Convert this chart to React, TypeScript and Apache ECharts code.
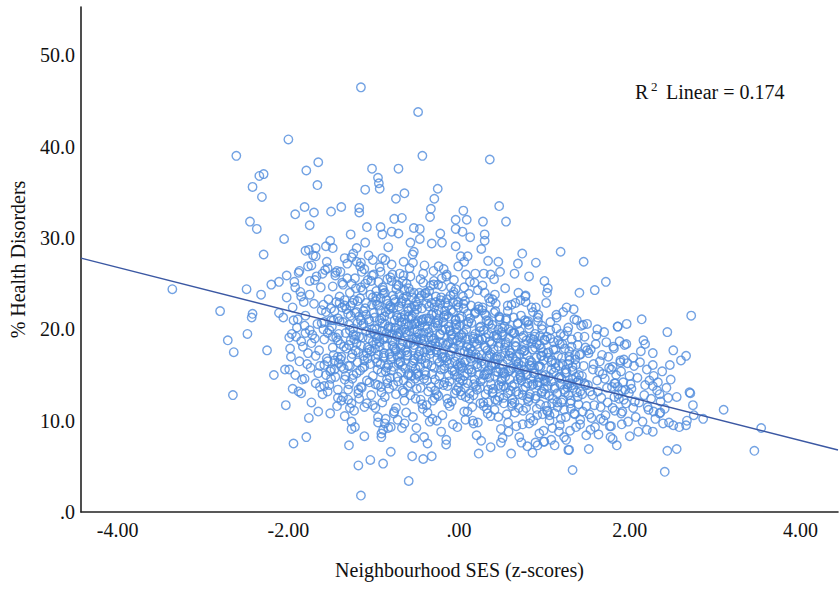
import React, { useEffect, useRef } from "react";
import * as echarts from "echarts";

const X_MIN = -4.43;
const X_MAX = 4.44;
const Y_MIN = 0;
const Y_MAX = 55.3;
const xTicks = [-4, -2, 0, 2, 4];
const yTicks = [0, 10, 20, 30, 40, 50];
const fitIntercept = 17.31;
const fitSlope = -2.368;
const r2Value = "0.174";
const xTitle = "Neighbourhood SES (z-scores)";
const yTitle = "% Health Disorders";

const leftTail: number[][] = [
[-3.36,24.4],[-2.80,22.0],[-2.71,18.8],[-2.65,12.8],[-2.64,17.5],[-2.61,39.0],[-2.49,24.4],[-2.48,19.5],[-2.45,31.8],[-2.43,21.3],[-2.42,21.7],[-2.42,35.6],[-2.37,31.0],[-2.34,36.8],[-2.32,23.8],[-2.31,34.5],[-2.29,37.0],[-2.29,28.2],[-2.25,17.7],[-2.20,24.9],[-2.17,15.0],[-2.11,25.2],[-2.11,21.8],[-2.06,21.3],[-2.05,29.9],[-2.04,15.6],[-2.03,11.7],[-2.02,25.9],[-2.02,23.5],[-2.00,40.8],[-1.99,15.6],[-1.98,17.9],[-1.96,19.5],[-1.95,13.5],[-1.94,7.5],[-1.93,25.2],[-1.92,24.6],[-1.92,32.6],[-1.91,19.2],[-1.89,21.1],[-1.88,13.2],[-1.87,26.4],[-1.85,18.7],[-1.85,23.6],[-1.84,14.5],[-1.81,14.6],[-1.81,33.4],[-1.80,19.6],[-1.80,28.6],[-1.79,8.2],[-1.79,37.4],[-1.77,26.9],[-1.77,17.4],[-1.76,28.7],[-1.75,19.9],[-1.75,23.8],[-1.75,31.4],[-1.73,12.0],[-1.73,18.5],[-1.71,28.1],[-1.70,32.8],[-1.69,25.4],[-1.68,17.1],[-1.68,28.9],[-1.68,28.0],[-1.66,35.8],[-1.65,38.3],[-1.65,15.2],[-1.63,13.7],[-1.61,20.7],[-1.60,26.1],[-1.59,22.7],[-1.58,13.8],[-1.58,20.8],[-1.58,16.1],[-1.56,15.0],[-1.56,29.1],[-1.55,27.4],[-1.54,26.7],[-1.54,19.6],[-1.54,16.5],[-1.52,13.9],[-1.51,29.7],[-1.51,10.8],[-1.50,22.3],[-1.50,21.0],[-1.50,32.9],[-1.50,15.6],[-1.50,14.6],
[-1.95,22.4],[-1.90,20.2],[-1.86,24.1],[-1.83,18.1],[-1.80,21.5],[-1.78,16.2],[-1.75,25.3],[-1.72,19.4],[-1.70,22.8],[-1.68,14.1],[-1.66,20.6],[-1.64,17.7],[-1.62,24.6],[-1.60,12.9],[-1.58,18.9],[-1.56,21.9],[-1.55,16.8],[-1.53,23.3],[-1.52,19.9],[-1.51,15.4],[-1.97,17.0],[-1.92,15.0],[-1.88,26.2],[-1.85,13.0],[-1.82,23.0],[-1.76,10.3],[-1.73,27.0],[-1.69,19.0],[-1.65,11.0],[-1.61,22.1],[-1.57,26.5],[-1.54,13.2],[-1.99,19.1],[-1.94,21.0],[-1.87,16.5],[-1.81,20.4],[-1.74,15.8],[-1.67,25.8],[-1.63,16.0],[-1.59,20.0]
];

const upperLeft: number[][] = [
[-1.48,28.9],[-1.48,19.2],[-1.46,16.6],[-1.45,26.2],[-1.42,12.5],[-1.42,17.0],[-1.42,18.8],[-1.40,22.9],[-1.39,26.3],[-1.38,33.4],[-1.38,15.9],[-1.36,12.6],[-1.34,27.8],[-1.34,23.2],[-1.34,14.5],[-1.30,12.3],[-1.30,13.4],[-1.29,7.3],[-1.28,11.4],[-1.27,30.4],[-1.26,9.9],[-1.26,11.9],[-1.26,9.1],[-1.24,28.3],[-1.22,9.3],[-1.20,28.9],[-1.20,27.4],[-1.18,5.1],[-1.18,13.4],[-1.17,33.3],[-1.17,32.8],[-1.15,46.5],[-1.15,27.3],[-1.15,1.8],[-1.15,13.7],[-1.11,8.3],[-1.11,11.5],[-1.10,35.3],[-1.10,29.5],[-1.08,31.2],[-1.06,28.1],[-1.04,5.7],[-1.02,37.6],[-1.01,27.6],[-1.01,11.7],[-0.95,36.6],[-0.95,10.4],[-0.94,36.0],[-0.93,35.4],[-0.92,31.2],[-0.91,8.6],[-0.91,8.2],[-0.90,30.4],[-0.89,5.3],[-0.89,9.0],[-0.87,9.7],[-0.83,9.2],[-0.80,6.6],[-0.80,9.3],[-0.79,30.7],[-0.76,32.1],[-0.74,34.3],[-0.72,10.1],[-0.71,37.6],[-0.71,30.5],[-0.67,32.2],[-0.64,34.9],[-0.64,9.7],[-0.59,3.4],[-0.57,29.5],[-0.55,6.1],[-0.53,28.5],[-0.53,31.1],[-0.52,8.1]
];

const upperCenter: number[][] = [
[-0.48,43.8],[-0.46,31.0],[-0.46,29.9],[-0.43,39.0],[-0.42,5.8],[-0.41,8.2],[-0.37,7.5],[-0.34,32.3],[-0.33,33.2],[-0.32,29.4],[-0.32,6.1],[-0.29,34.3],[-0.25,35.4],[-0.24,26.9],[-0.22,30.5],[-0.20,29.5],[-0.15,7.9],[-0.04,32.0],[-0.04,31.0],[-0.04,29.1],[-0.01,26.9],[0.02,28.0],[0.04,30.7],[0.05,33.0],[0.06,27.4],[0.08,26.0],[0.09,32.0],[0.10,28.0],[0.13,30.1],[0.19,26.1],[0.23,6.4],[0.26,28.8],[0.28,31.8],[0.29,26.1],[0.30,30.4],[0.30,29.7],[0.34,27.5],[0.36,38.6],[0.37,26.0],[0.37,7.1],[0.41,25.5],[0.46,27.4],[0.47,33.5],[0.48,26.3],[0.49,7.6],[0.51,8.1],[0.55,31.8],[0.61,6.4],[0.65,26.1],[0.69,27.2],[0.73,7.6],[0.74,28.3],[0.78,23.7],[0.80,7.2],[0.82,25.8],[0.86,6.5],[0.90,27.3],[0.92,7.3]
];

const rightTail: number[][] = [
[1.00,25.3],[1.00,7.7],[1.03,24.0],[1.04,24.5],[1.08,7.9],[1.12,7.3],[0.99,7.7],[1.19,28.5],[1.23,8.2],[1.28,6.8],[1.29,6.8],[1.33,4.6],[1.41,24.0],[1.46,27.4],[1.52,6.9],[1.59,24.3],[1.72,25.2],[1.80,8.0],[1.80,15.9],[1.82,14.1],[1.82,12.6],[1.86,20.3],[1.86,13.7],[1.89,16.4],[1.91,13.3],[1.93,12.3],[1.96,18.4],[2.00,8.3],[2.01,14.0],[2.04,11.4],[2.05,16.0],[2.06,12.1],[2.10,8.8],[2.12,16.4],[2.14,21.1],[2.16,18.8],[2.17,12.8],[2.18,18.4],[2.20,9.0],[2.21,11.5],[2.23,14.4],[2.27,13.8],[2.27,16.1],[2.27,8.8],[2.28,14.9],[2.28,11.0],[2.32,13.3],[2.35,12.9],[2.35,10.8],[2.36,10.9],[2.39,9.7],[2.41,4.4],[2.44,19.7],[2.44,6.7],[2.45,12.5],[2.47,16.1],[2.51,17.7],[2.51,9.5],[2.55,12.6],[2.55,6.9],[2.58,9.3],[2.60,16.6],[2.66,17.1],[2.66,9.5],[2.67,10.0],[2.70,13.1],[2.71,13.0],[2.72,21.5],[2.74,11.7],[2.75,10.6],[2.86,10.2],[3.10,11.2],[3.46,6.7],[3.54,9.2],
[2.02,13.5],[2.04,16.9],[2.07,10.4],[2.09,14.7],[2.11,12.0],[2.13,17.6],[2.15,9.9],[2.18,13.9],[2.20,15.6],[2.22,11.2],[2.25,12.4],[2.27,17.4],[2.30,10.2],[2.33,14.2],[2.36,12.1],[2.38,15.4],[2.41,11.3],[2.43,13.6],[2.46,9.8],[2.48,14.5]
];

const coreA: number[][] = [
[-1.49,20.3],[-1.48,24.7],[-1.47,17.2],[-1.46,22.0],[-1.45,14.8],[-1.44,19.1],[-1.43,26.4],[-1.42,21.2],[-1.41,16.3],[-1.40,23.6],[-1.39,18.4],[-1.38,12.2],[-1.37,25.1],[-1.36,20.8],[-1.35,15.7],[-1.34,22.6],[-1.33,19.6],[-1.32,17.9],[-1.31,27.2],[-1.30,21.7],[-1.29,14.0],[-1.28,24.0],[-1.27,18.8],[-1.26,16.9],[-1.25,22.9],[-1.24,20.1],[-1.23,11.1],[-1.22,25.6],[-1.21,19.3],[-1.20,15.2],[-1.19,23.1],[-1.18,17.5],[-1.17,21.4],[-1.16,26.9],[-1.15,18.2],[-1.14,13.6],[-1.13,24.3],[-1.12,20.6],[-1.11,16.6],[-1.10,22.3],[-1.09,19.8],[-1.08,14.4],[-1.07,25.4],[-1.06,21.1],[-1.05,17.8],[-1.04,23.8],[-1.03,12.8],[-1.02,20.0],[-1.01,18.6],[-1.00,26.0],
[-1.48,18.0],[-1.46,15.6],[-1.44,23.0],[-1.42,13.4],[-1.40,20.9],[-1.38,17.0],[-1.36,24.9],[-1.34,10.5],[-1.32,22.2],[-1.30,16.0],[-1.28,19.9],[-1.26,27.9],[-1.24,15.0],[-1.22,21.8],[-1.20,18.5],[-1.18,13.0],[-1.16,23.4],[-1.14,20.4],[-1.12,17.1],[-1.10,25.0],[-1.08,11.9],[-1.06,19.0],[-1.04,16.2],[-1.02,22.7],[-1.45,25.9],[-1.41,19.5],[-1.37,22.4],[-1.33,14.9],[-1.29,20.5],[-1.25,17.3],[-1.21,24.5],[-1.17,19.2],[-1.13,15.8],[-1.09,21.6],[-1.05,14.2],[-1.01,23.5],[-1.47,21.0],[-1.39,16.7],[-1.31,25.6],[-1.23,18.9],[-1.15,21.0],[-1.07,18.0],[-1.43,11.6],[-1.35,18.1],[-1.27,22.6],[-1.19,16.4],[-1.11,26.6],[-1.03,17.6]
];

const coreB: number[][] = [
[-0.99,21.3],[-0.98,16.8],[-0.97,24.2],[-0.96,19.0],[-0.95,13.9],[-0.94,22.6],[-0.93,18.1],[-0.92,26.3],[-0.91,15.3],[-0.90,20.7],[-0.89,23.9],[-0.88,17.4],[-0.87,12.6],[-0.86,21.9],[-0.85,19.6],[-0.84,25.5],[-0.83,16.1],[-0.82,22.2],[-0.81,14.7],[-0.80,20.2],[-0.79,27.1],[-0.78,18.7],[-0.77,15.9],[-0.76,23.3],[-0.75,19.9],[-0.74,11.4],[-0.73,21.5],[-0.72,17.0],[-0.71,24.8],[-0.70,20.9],[-0.69,16.5],[-0.68,22.9],[-0.67,18.3],[-0.66,13.3],[-0.65,25.9],[-0.64,21.1],[-0.63,17.7],[-0.62,23.6],[-0.61,19.4],[-0.60,15.0],[-0.59,20.4],[-0.58,26.7],[-0.57,14.1],[-0.56,22.4],[-0.55,18.9],[-0.54,16.3],[-0.53,24.0],[-0.52,20.6],[-0.51,12.4],[-0.50,19.1],
[-0.985,17.9],[-0.975,23.1],[-0.965,20.0],[-0.955,15.6],[-0.945,25.2],[-0.935,18.6],[-0.925,22.1],[-0.915,13.7],[-0.905,19.8],[-0.895,24.6],[-0.885,16.9],[-0.875,21.4],[-0.865,27.6],[-0.855,18.2],[-0.845,14.5],[-0.835,22.8],[-0.825,20.3],[-0.815,17.3],[-0.805,25.7],[-0.795,15.5],[-0.785,19.5],[-0.775,23.7],[-0.765,10.8],[-0.755,21.0],[-0.745,17.6],[-0.735,24.4],[-0.725,19.2],[-0.715,14.3],[-0.705,22.5],[-0.695,26.1],[-0.685,18.0],[-0.675,20.8],[-0.665,16.0],[-0.655,23.4],[-0.645,13.1],[-0.635,21.6],[-0.625,19.7],[-0.615,25.0],[-0.605,17.2],[-0.595,22.0],[-0.585,15.2],[-0.575,24.1],[-0.565,18.5],[-0.555,20.5],[-0.545,28.2],[-0.535,16.6],[-0.525,21.8],[-0.515,14.6],[-0.505,23.0],[-0.50,18.8],
[-0.99,20.1],[-0.98,14.0],[-0.97,18.4],[-0.96,22.7],[-0.95,9.8],[-0.94,19.3],[-0.93,26.8],[-0.92,16.2],[-0.91,21.2],[-0.90,12.0],[-0.89,24.3],[-0.88,17.1],[-0.87,20.6],[-0.86,15.4],[-0.85,23.2],[-0.84,19.0],[-0.83,29.0],[-0.82,13.5],[-0.81,21.7],[-0.80,16.7],[-0.79,25.3],[-0.78,18.2],[-0.77,22.3],[-0.76,11.0],[-0.75,20.2],[-0.74,17.8],[-0.73,24.9],[-0.72,14.8],[-0.71,19.6],[-0.70,23.8],[-0.69,16.4],[-0.68,21.3],[-0.67,9.2],[-0.66,18.7],[-0.65,27.4],[-0.64,20.0],[-0.63,15.7],[-0.62,22.9],[-0.61,17.5],[-0.60,13.8],[-0.59,21.4],[-0.58,19.8],[-0.57,25.8],[-0.56,16.0],[-0.55,23.5],[-0.54,10.4],[-0.53,18.3],[-0.52,22.5],[-0.51,20.7],[-0.50,15.1]
];

const coreC: number[][] = [
[-0.49,19.8],[-0.48,15.2],[-0.47,23.4],[-0.46,17.6],[-0.45,12.3],[-0.44,21.0],[-0.43,18.4],[-0.42,25.1],[-0.41,14.6],[-0.40,20.3],[-0.39,16.9],[-0.38,22.8],[-0.37,10.9],[-0.36,19.1],[-0.35,24.2],[-0.34,17.3],[-0.33,13.7],[-0.32,21.6],[-0.31,18.8],[-0.30,26.4],[-0.29,15.8],[-0.28,20.7],[-0.27,23.0],[-0.26,12.9],[-0.25,18.1],[-0.24,22.1],[-0.23,16.4],[-0.22,19.5],[-0.21,8.8],[-0.20,24.7],[-0.19,17.0],[-0.18,21.3],[-0.17,14.2],[-0.16,20.0],[-0.15,25.8],[-0.14,16.6],[-0.13,22.6],[-0.12,18.6],[-0.11,11.6],[-0.10,23.7],[-0.09,19.3],[-0.08,15.5],[-0.07,21.9],[-0.06,17.9],[-0.05,13.0],[-0.04,24.4],[-0.03,20.5],[-0.02,16.1],[-0.01,22.4],[0.00,18.2],
[-0.495,13.5],[-0.485,20.9],[-0.475,17.2],[-0.465,24.0],[-0.455,15.9],[-0.445,19.0],[-0.435,22.3],[-0.425,11.3],[-0.415,18.9],[-0.405,27.0],[-0.395,16.3],[-0.385,21.2],[-0.375,14.4],[-0.365,23.5],[-0.355,19.7],[-0.345,9.9],[-0.335,17.7],[-0.325,22.9],[-0.315,15.1],[-0.305,20.2],[-0.295,25.3],[-0.285,12.5],[-0.275,18.5],[-0.265,21.7],[-0.255,16.8],[-0.245,24.9],[-0.235,14.0],[-0.225,19.4],[-0.215,23.2],[-0.205,17.4],[-0.195,10.6],[-0.185,20.8],[-0.175,15.7],[-0.165,22.0],[-0.155,18.3],[-0.145,26.0],[-0.135,13.8],[-0.125,21.4],[-0.115,16.2],[-0.105,19.9],[-0.095,24.6],[-0.085,12.1],[-0.075,18.0],[-0.065,23.8],[-0.055,15.4],[-0.045,20.6],[-0.035,17.1],[-0.025,22.7],[-0.015,14.8],[-0.005,19.2],
[-0.492,22.2],[-0.482,18.7],[-0.472,14.9],[-0.462,20.4],[-0.452,25.5],[-0.442,16.7],[-0.432,11.8],[-0.422,21.1],[-0.412,19.6],[-0.402,23.9],[-0.392,15.0],[-0.382,17.8],[-0.372,20.1],[-0.362,13.2],[-0.352,22.5],[-0.342,18.0],[-0.332,24.8],[-0.322,16.0],[-0.312,10.2],[-0.302,21.8],[-0.292,19.0],[-0.282,14.5],[-0.272,23.6],[-0.262,17.5],[-0.252,20.7],[-0.242,12.7],[-0.232,18.6],[-0.222,22.8],[-0.212,15.6],[-0.202,25.6],[-0.192,19.9],[-0.182,13.9],[-0.172,21.5],[-0.162,16.9],[-0.152,7.4],[-0.142,23.3],[-0.132,18.4],[-0.122,20.3],[-0.112,14.3],[-0.102,17.2],[-0.092,22.1],[-0.082,19.5],[-0.072,9.6],[-0.062,24.1],[-0.052,16.5],[-0.042,21.0],[-0.032,13.3],[-0.022,18.8],[-0.012,23.0],[-0.002,15.9]
];

const coreD: number[][] = [
[0.01,17.5],[0.02,13.2],[0.03,21.4],[0.04,15.8],[0.05,19.6],[0.06,11.0],[0.07,23.1],[0.08,16.6],[0.09,18.9],[0.10,14.1],[0.11,20.8],[0.12,12.4],[0.13,17.9],[0.14,22.6],[0.15,15.3],[0.16,19.2],[0.17,9.7],[0.18,16.9],[0.19,21.9],[0.20,13.8],[0.21,18.4],[0.22,24.3],[0.23,15.0],[0.24,20.2],[0.25,11.9],[0.26,17.2],[0.27,22.1],[0.28,14.6],[0.29,19.9],[0.30,16.2],[0.31,12.9],[0.32,21.0],[0.33,17.7],[0.34,15.5],[0.35,23.4],[0.36,18.7],[0.37,10.5],[0.38,16.0],[0.39,20.5],[0.40,13.5],[0.41,19.3],[0.42,14.9],[0.43,22.8],[0.44,17.0],[0.45,12.2],[0.46,18.1],[0.47,21.4],[0.48,15.7],[0.49,9.1],[0.50,19.7],
[0.005,21.2],[0.015,16.3],[0.025,12.8],[0.035,19.1],[0.045,14.4],[0.055,22.3],[0.065,17.6],[0.075,10.1],[0.085,20.0],[0.095,15.2],[0.105,18.3],[0.115,23.9],[0.125,13.0],[0.135,16.8],[0.145,20.7],[0.155,11.5],[0.165,19.0],[0.175,14.0],[0.185,21.7],[0.195,17.3],[0.205,8.4],[0.215,15.9],[0.225,22.5],[0.235,18.8],[0.245,13.6],[0.255,20.3],[0.265,16.5],[0.275,24.8],[0.285,12.0],[0.295,18.2],[0.305,15.1],[0.315,21.5],[0.325,17.0],[0.335,10.8],[0.345,19.5],[0.355,14.7],[0.365,23.0],[0.375,16.1],[0.385,20.1],[0.395,13.1],[0.405,17.8],[0.415,11.2],[0.425,22.0],[0.435,15.4],[0.445,19.4],[0.455,16.7],[0.465,13.9],[0.475,21.1],[0.485,18.5],[0.495,14.3],
[0.012,14.6],[0.028,19.4],[0.045,23.6],[0.061,16.4],[0.078,12.6],[0.094,20.6],[0.111,17.4],[0.127,25.2],[0.144,15.6],[0.160,10.0],[0.177,18.6],[0.193,21.8],[0.210,13.4],[0.226,16.9],[0.243,19.8],[0.259,7.8],[0.276,22.4],[0.292,15.0],[0.309,18.0],[0.325,11.3],[0.342,20.9],[0.358,17.1],[0.375,14.0],[0.391,23.3],[0.408,16.3],[0.424,12.3],[0.441,19.1],[0.457,15.3],[0.474,21.3],[0.490,13.7]
];

const coreE: number[][] = [
[0.51,16.2],[0.52,12.5],[0.53,20.3],[0.54,14.8],[0.55,18.6],[0.56,10.7],[0.57,22.0],[0.58,15.4],[0.59,17.7],[0.60,13.3],[0.61,19.8],[0.62,11.6],[0.63,16.9],[0.64,21.3],[0.65,14.0],[0.66,18.2],[0.67,9.4],[0.68,15.9],[0.69,20.7],[0.70,12.9],[0.71,17.3],[0.72,23.2],[0.73,14.4],[0.74,19.1],[0.75,11.1],[0.76,16.4],[0.77,21.0],[0.78,13.7],[0.79,18.8],[0.80,15.1],[0.81,12.1],[0.82,20.1],[0.83,16.6],[0.84,14.6],[0.85,22.4],[0.86,17.8],[0.87,10.0],[0.88,15.2],[0.89,19.5],[0.90,12.7],[0.91,18.4],[0.92,14.2],[0.93,21.6],[0.94,16.0],[0.95,11.8],[0.96,17.1],[0.97,20.4],[0.98,14.9],[0.99,8.9],[1.00,18.9],
[0.505,20.1],[0.515,15.3],[0.525,11.9],[0.535,18.0],[0.545,13.6],[0.555,21.2],[0.565,16.7],[0.575,9.8],[0.585,19.0],[0.595,14.5],[0.605,17.4],[0.615,22.7],[0.625,12.3],[0.635,15.8],[0.645,19.6],[0.655,10.9],[0.665,18.1],[0.675,13.2],[0.685,20.6],[0.695,16.3],[0.705,8.2],[0.715,15.0],[0.725,21.5],[0.735,17.8],[0.745,12.8],[0.755,19.3],[0.765,15.6],[0.775,23.6],[0.785,11.4],[0.795,17.2],[0.805,14.1],[0.815,20.5],[0.825,16.1],[0.835,10.3],[0.845,18.5],[0.855,13.9],[0.865,21.9],[0.875,15.2],[0.885,19.2],[0.895,12.4],[0.905,16.9],[0.915,10.6],[0.925,20.9],[0.935,14.7],[0.945,18.3],[0.955,15.9],[0.965,13.0],[0.975,20.0],[0.985,17.5],[0.995,13.5],
[0.52,13.8],[0.545,18.4],[0.57,22.6],[0.595,15.5],[0.62,11.9],[0.645,19.6],[0.67,16.5],[0.695,24.0],[0.72,14.7],[0.745,9.6],[0.77,17.7],[0.795,20.8],[0.82,12.6],[0.845,16.0],[0.87,18.9],[0.895,7.6],[0.92,21.3],[0.945,14.2],[0.97,17.1],[0.98,10.7]
];

const coreF: number[][] = [
[1.01,15.0],[1.02,11.6],[1.03,19.2],[1.04,13.8],[1.05,17.5],[1.06,10.0],[1.07,20.8],[1.08,14.3],[1.09,16.6],[1.10,12.4],[1.11,18.6],[1.12,10.8],[1.13,15.8],[1.14,20.1],[1.15,13.0],[1.16,17.1],[1.17,8.8],[1.18,14.8],[1.19,19.5],[1.20,12.0],[1.21,16.2],[1.22,21.9],[1.23,13.4],[1.24,17.9],[1.25,10.4],[1.26,15.3],[1.27,19.8],[1.28,12.8],[1.29,17.6],[1.30,14.1],[1.31,11.3],[1.32,18.9],[1.33,15.5],[1.34,13.6],[1.35,21.1],[1.36,16.7],[1.37,9.3],[1.38,14.2],[1.39,18.3],[1.40,11.8],[1.41,17.2],[1.42,13.2],[1.43,20.4],[1.44,14.9],[1.45,11.0],[1.46,16.0],[1.47,19.2],[1.48,13.9],[1.49,8.4],[1.50,17.7],
[1.005,18.8],[1.018,14.3],[1.030,11.1],[1.043,16.9],[1.055,12.7],[1.068,19.9],[1.080,15.6],[1.093,9.2],[1.105,17.8],[1.118,13.5],[1.130,16.3],[1.143,21.3],[1.155,11.5],[1.168,14.7],[1.180,18.4],[1.193,10.2],[1.205,16.9],[1.218,12.3],[1.230,19.3],[1.243,15.2],[1.255,7.9],[1.268,14.0],[1.280,20.2],[1.293,16.6],[1.305,11.9],[1.318,18.1],[1.330,14.5],[1.343,22.2],[1.355,10.7],[1.368,16.1],[1.380,13.1],[1.393,19.2],[1.405,15.0],[1.418,9.6],[1.430,17.3],[1.443,12.9],[1.455,20.5],[1.468,14.1],[1.480,18.0],[1.493,11.6]
];

const coreG: number[][] = [
[1.51,13.9],[1.527,10.7],[1.543,17.8],[1.56,12.8],[1.576,16.2],[1.593,9.3],[1.609,19.3],[1.626,13.2],[1.642,15.4],[1.659,11.5],[1.675,17.2],[1.692,10.0],[1.708,14.6],[1.725,18.6],[1.741,12.0],[1.758,15.8],[1.774,8.2],[1.791,13.7],[1.807,18.1],[1.824,11.1],[1.84,15.0],[1.857,20.3],[1.873,12.4],[1.89,16.6],[1.906,9.6],[1.923,14.2],[1.939,18.3],[1.956,11.9],[1.972,16.3],[1.99,13.0],
[1.518,17.4],[1.535,13.2],[1.551,10.3],[1.568,15.6],[1.584,11.7],[1.601,18.4],[1.617,14.4],[1.634,8.5],[1.65,16.5],[1.667,12.5],[1.683,15.1],[1.7,19.7],[1.716,10.6],[1.733,13.6],[1.749,17.0],[1.766,9.4],[1.782,15.6],[1.799,11.4],[1.815,17.9],[1.832,14.1],[1.848,7.3],[1.865,12.9],[1.881,18.7],[1.898,15.4],[1.914,11.0],[1.931,16.7],[1.947,13.4],[1.964,20.6],[1.98,9.9],[1.997,14.9]
];

const coreExtraLeft: number[][] = [
[-1.29,18.3],[-1.27,21.5],[-1.25,14.6],[-1.23,23.2],[-1.21,17.7],[-1.19,20.7],[-1.17,12.4],[-1.15,24.6],[-1.13,19.1],[-1.11,15.9],[-1.09,22.9],[-1.07,16.8],[-1.05,20.9],[-1.03,25.3],[-1.01,14.9],[-0.99,19.5],[-0.97,23.6],[-0.95,17.2],[-0.93,21.0],[-0.91,13.1],[-0.89,18.9],[-0.87,24.0],[-0.85,15.8],[-0.83,20.1],[-0.81,22.6],[-0.79,17.0],[-0.77,13.9],[-0.75,23.0],[-0.73,19.3],[-0.71,16.3],
[-1.28,16.0],[-1.24,19.4],[-1.20,21.9],[-1.16,15.5],[-1.12,22.0],[-1.08,17.4],[-1.04,19.6],[-1.00,21.8],[-0.96,16.4],[-0.92,23.4],[-0.88,19.1],[-0.84,14.1],[-0.80,22.4],[-0.76,18.0],[-0.72,21.3],[-0.68,15.3],[-0.64,24.3],[-0.60,18.4],[-0.56,21.2],[-0.52,16.8],
[-0.69,19.7],[-0.67,23.1],[-0.65,14.4],[-0.63,20.6],[-0.61,17.1],[-0.59,24.5],[-0.57,12.8],[-0.55,21.4],[-0.53,18.0],[-0.51,15.7],[-0.49,22.7],[-0.47,19.5],[-0.45,13.6],[-0.43,20.8],[-0.41,17.5],[-0.39,24.0],[-0.37,16.2],[-0.35,21.2],[-0.33,19.2],[-0.31,12.2],[-0.29,22.4],[-0.27,17.8],[-0.25,20.4],[-0.23,14.9],[-0.21,23.5],[-0.19,18.5],[-0.17,16.0],[-0.15,21.6],[-0.13,11.9],[-0.11,19.8],[-0.09,17.6],[-0.07,23.0],[-0.05,15.0],[-0.03,20.0],[-0.01,13.6],
[-0.68,17.3],[-0.64,12.2],[-0.60,22.3],[-0.56,14.9],[-0.52,20.0],[-0.48,17.0],[-0.44,23.7],[-0.40,15.4],[-0.36,20.9],[-0.32,18.2],[-0.28,13.3],[-0.24,21.0],[-0.20,16.9],[-0.16,22.9],[-0.12,15.0],[-0.08,18.9],[-0.04,21.1],[0.00,14.2]
];

const coreExtraRight: number[][] = [
[0.01,20.4],[0.03,16.0],[0.05,22.8],[0.07,13.6],[0.09,18.1],[0.11,15.6],[0.13,21.2],[0.15,17.6],[0.17,12.8],[0.19,19.5],[0.21,16.2],[0.23,22.2],[0.25,14.3],[0.27,18.9],[0.29,11.6],[0.31,19.1],[0.33,15.1],[0.35,20.6],[0.37,17.3],[0.39,13.0],[0.41,21.8],[0.43,16.2],[0.45,19.0],[0.47,12.6],[0.49,17.0],[0.51,19.4],[0.53,15.2],[0.55,21.0],[0.57,13.0],[0.59,17.1],[0.61,15.7],[0.63,19.6],[0.65,12.0],[0.67,17.0],[0.69,14.5],
[0.02,18.6],[0.06,14.9],[0.10,21.7],[0.14,17.2],[0.18,14.5],[0.22,19.0],[0.26,16.0],[0.30,21.7],[0.34,13.4],[0.38,18.4],[0.42,16.8],[0.46,20.0],[0.50,14.6],[0.54,17.4],[0.58,20.0],[0.62,13.8],[0.66,18.6],[0.70,15.6],
[0.71,19.8],[0.73,16.0],[0.75,13.4],[0.77,18.3],[0.79,15.0],[0.81,20.9],[0.83,12.9],[0.85,16.4],[0.87,14.0],[0.89,18.0],[0.91,11.3],[0.93,15.9],[0.95,19.3],[0.97,13.2],[0.99,16.6],[1.01,12.9],[1.03,17.4],[1.05,14.8],[1.07,19.0],[1.09,11.9],[1.11,15.3],[1.13,17.8],[1.15,12.0],[1.17,16.0],[1.19,14.0],[1.21,18.4],[1.23,11.2],[1.25,15.6],[1.27,13.6],[1.29,17.0],[1.31,12.2],[1.33,15.9],[1.35,10.8],[1.37,14.8],[1.39,12.6],
[0.72,14.9],[0.76,17.6],[0.80,12.4],[0.84,19.0],[0.88,15.8],[0.92,13.9],[0.96,17.9],[1.00,14.4],[1.04,11.0],[1.08,16.4],[1.12,13.7],[1.16,18.8],[1.20,14.6],[1.24,13.1],[1.28,16.2],[1.32,13.9],[1.36,17.2],[1.40,14.4]
];

const edgeFill: number[][] = [
[-0.98,11.4],[-0.86,10.2],[-0.74,12.9],[-0.62,10.9],[-0.50,9.2],[-0.38,11.7],[-0.26,10.0],[-0.14,12.4],[-0.02,9.3],[0.10,11.0],[0.22,9.8],[0.34,12.0],[0.46,10.4],[0.58,8.8],[0.70,11.4],[0.82,9.7],[0.94,8.6],[1.06,10.6],[1.18,9.5],[1.30,8.9],[1.42,10.1],[1.54,9.0],[1.66,10.2],[1.78,9.4],[1.90,10.8],
[-1.26,25.0],[-1.14,26.3],[-1.02,25.9],[-0.90,27.8],[-0.78,26.0],[-0.66,25.3],[-0.54,27.3],[-0.42,26.1],[-0.30,24.9],[-0.18,26.6],[-0.06,25.4],[0.06,24.6],[0.18,25.1],[0.30,24.0],[0.42,23.8],[0.54,24.5],[0.66,22.9],[0.78,23.0],[0.90,22.4],[1.02,22.9],[1.14,21.6],[1.26,22.4],[1.38,21.0],[1.50,20.6],[1.62,20.0]
];

const SERIF = "'Liberation Serif', 'Times New Roman', serif";
const POINT_COLOR = "#4f8bdc";
const LINE_COLOR = "#3b58a3";
const AXIS_COLOR = "#222";
const TEXT_COLOR = "#111";

const fmtX = (v: number) => (v === 0 ? ".00" : v.toFixed(2));
const fmtY = (v: number) => (v === 0 ? ".0" : v.toFixed(1));

export default function App() {
  const ref = useRef<HTMLDivElement>(null);

  useEffect(() => {
    document.body.style.margin = "0";
    if (!ref.current) return;
    const chart = echarts.init(ref.current, null, { renderer: "svg" });

    const points = [
      ...leftTail, ...upperLeft, ...upperCenter, ...rightTail,
      ...coreA, ...coreB, ...coreC, ...coreD, ...coreE, ...coreF, ...coreG,
      ...coreExtraLeft, ...coreExtraRight, ...edgeFill,
    ];
    const fitLine = [
      [X_MIN, fitIntercept + fitSlope * X_MIN],
      [X_MAX, fitIntercept + fitSlope * X_MAX],
    ];

    chart.setOption({
      animation: false,
      backgroundColor: "#ffffff",
      grid: { left: 79, right: 1, top: 7, bottom: 77, containLabel: false },
      xAxis: {
        type: "value",
        min: X_MIN,
        max: X_MAX,
        splitLine: { show: false },
        axisTick: { show: false },
        axisLine: { show: true, onZero: false, lineStyle: { color: AXIS_COLOR, width: 1.6 } },
        axisLabel: {
          customValues: xTicks,
          formatter: fmtX,
          fontFamily: SERIF,
          fontSize: 20,
          color: TEXT_COLOR,
          margin: 8,
        },
        name: xTitle,
        nameLocation: "middle",
        nameGap: 48,
        nameTextStyle: { fontFamily: SERIF, fontSize: 20, color: TEXT_COLOR },
      },
      yAxis: {
        type: "value",
        min: Y_MIN,
        max: Y_MAX,
        splitLine: { show: false },
        axisTick: { show: false },
        axisLine: { show: true, onZero: false, lineStyle: { color: AXIS_COLOR, width: 1.6 } },
        axisLabel: {
          customValues: yTicks,
          formatter: fmtY,
          fontFamily: SERIF,
          fontSize: 20,
          color: TEXT_COLOR,
          margin: 6,
          padding: [8, 0, 0, 0],
        },
        name: yTitle,
        nameLocation: "middle",
        nameRotate: 90,
        nameGap: 53,
        nameTextStyle: { fontFamily: SERIF, fontSize: 20, color: TEXT_COLOR },
      },
      series: [
        {
          type: "scatter",
          data: points,
          symbol: "circle",
          symbolSize: 8.5,
          progressive: 0,
          silent: true,
          itemStyle: { color: "transparent", borderColor: POINT_COLOR, borderWidth: 1.4 },
        },
        {
          type: "line",
          data: fitLine,
          symbol: "none",
          silent: true,
          lineStyle: { color: LINE_COLOR, width: 1.5 },
        },
      ],
      graphic: [
        {
          type: "text",
          left: 635,
          top: 82,
          style: { text: "R", font: `20px ${SERIF}`, fill: TEXT_COLOR },
        },
        {
          type: "text",
          left: 651,
          top: 80,
          style: { text: "2", font: `13px ${SERIF}`, fill: TEXT_COLOR },
        },
        {
          type: "text",
          left: 666,
          top: 82,
          style: { text: `Linear = ${r2Value}`, font: `20px ${SERIF}`, fill: TEXT_COLOR },
        },
      ],
    });

    return () => chart.dispose();
  }, []);

  return <div ref={ref} style={{ width: 839, height: 589 }} />;
}
